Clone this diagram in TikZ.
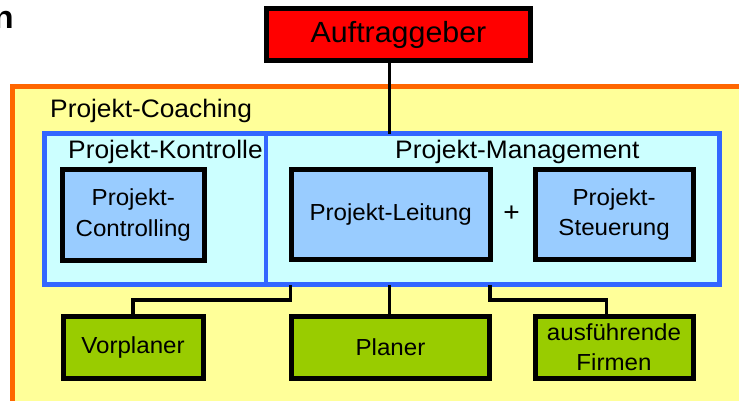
\documentclass[tikz,border=0pt]{standalone}
\usepackage{fontspec}
\setmainfont{Liberation Sans}[FakeStretch=1.04]
\usetikzlibrary{calc}
\definecolor{cRed}{HTML}{FF0000}
\definecolor{cLBlue}{HTML}{99CCFF}
\definecolor{cCyan}{HTML}{CCFFFF}
\definecolor{cBlue}{HTML}{3366FF}
\definecolor{cYellow}{HTML}{FFFF99}
\definecolor{cOrange}{HTML}{FF6600}
\definecolor{cGreen}{HTML}{99CC00}
\tikzset{
  boxbase/.style={rectangle, draw=black, line width=5pt, outer sep=0pt, inner sep=0pt, align=center,
    font=\fontsize{23.2}{30.5}\selectfont},
  bluebox/.style={boxbase, fill=cLBlue},
  greenbox/.style={boxbase, fill=cGreen},
  groupbox/.style={rectangle, draw=cBlue, fill=cCyan, line width=4.5pt, outer sep=0pt, inner sep=0pt},
  heading/.style={inner sep=0pt, anchor=base west, font=\fontsize{25.3}{30}\selectfont},
  conn/.style={draw=black, line width=3.5pt},
}
\begin{document}
\begin{tikzpicture}[x=1pt,y=-1pt]
\useasboundingbox (0,0) rectangle (739,400);
\clip (0,0) rectangle (739,400);
% outer coaching area
\draw[draw=cOrange, fill=cYellow, line width=5pt] (12,86.5) rectangle (760,420);
\node[inner sep=0pt, anchor=base east, font=\bfseries\fontsize{32}{36}\selectfont] (ntxt) at (14,28) {n};
% group boxes
\node[groupbox, minimum width=221.5pt, minimum height=151pt] (kontr) at (155.25,209) {};
\node[groupbox, minimum width=453.5pt, minimum height=151pt] (mgmt) at (492.75,209) {};
% top box
\node[boxbase, fill=cRed, minimum width=264pt, minimum height=52pt, font=\fontsize{29.2}{34}\selectfont] (auftr) at (398.5,34.5) {Auftraggeber};
% inner boxes
\node[bluebox, minimum width=142.5pt, minimum height=90.5pt] (contr) at (133.25,214.75) {Projekt-\\Controlling};
\node[bluebox, minimum width=198.7pt, minimum height=90pt] (leit) at (390.65,214.5) {Projekt-Leitung};
\node[bluebox, minimum width=157.7pt, minimum height=90pt] (steu) at (614.15,214.5) {Projekt-\\Steuerung};
\node[inner sep=0pt, font=\fontsize{27}{30}\selectfont] (plus) at (511.5,214) {+};
% bottom boxes
\node[greenbox, minimum width=140pt, minimum height=61.3pt] (vor) at (133,347.35) {Vorplaner};
\node[greenbox, minimum width=198pt, minimum height=61.3pt] (plan) at (390.5,347.35) {Planer};
\node[greenbox, minimum width=158pt, minimum height=61.3pt] (firm) at (614,347.35) {ausführende\\Firmen};
% headings
\node[heading] (lcoach) at (50,117) {Projekt-Coaching};
\node[heading] (lkontr) at (68,158) {Projekt-Kontrolle};
\node[heading] (lmgmt) at (395,158.3) {Projekt-Management};
% connectors
\draw[conn] (auftr.south -| 389.5,0) -- (mgmt.north -| 389.5,0);
\draw[conn] (vor.north) |- (290.5,300) -- (mgmt.south -| 290.5,0);
\draw[conn] (plan.north -| 389.5,0) -- (mgmt.south -| 389.5,0);
\draw[conn] ($(firm.north)+(-7.5,0)$) |- (490,300) -- (mgmt.south -| 490,0);
\end{tikzpicture}
\end{document}
